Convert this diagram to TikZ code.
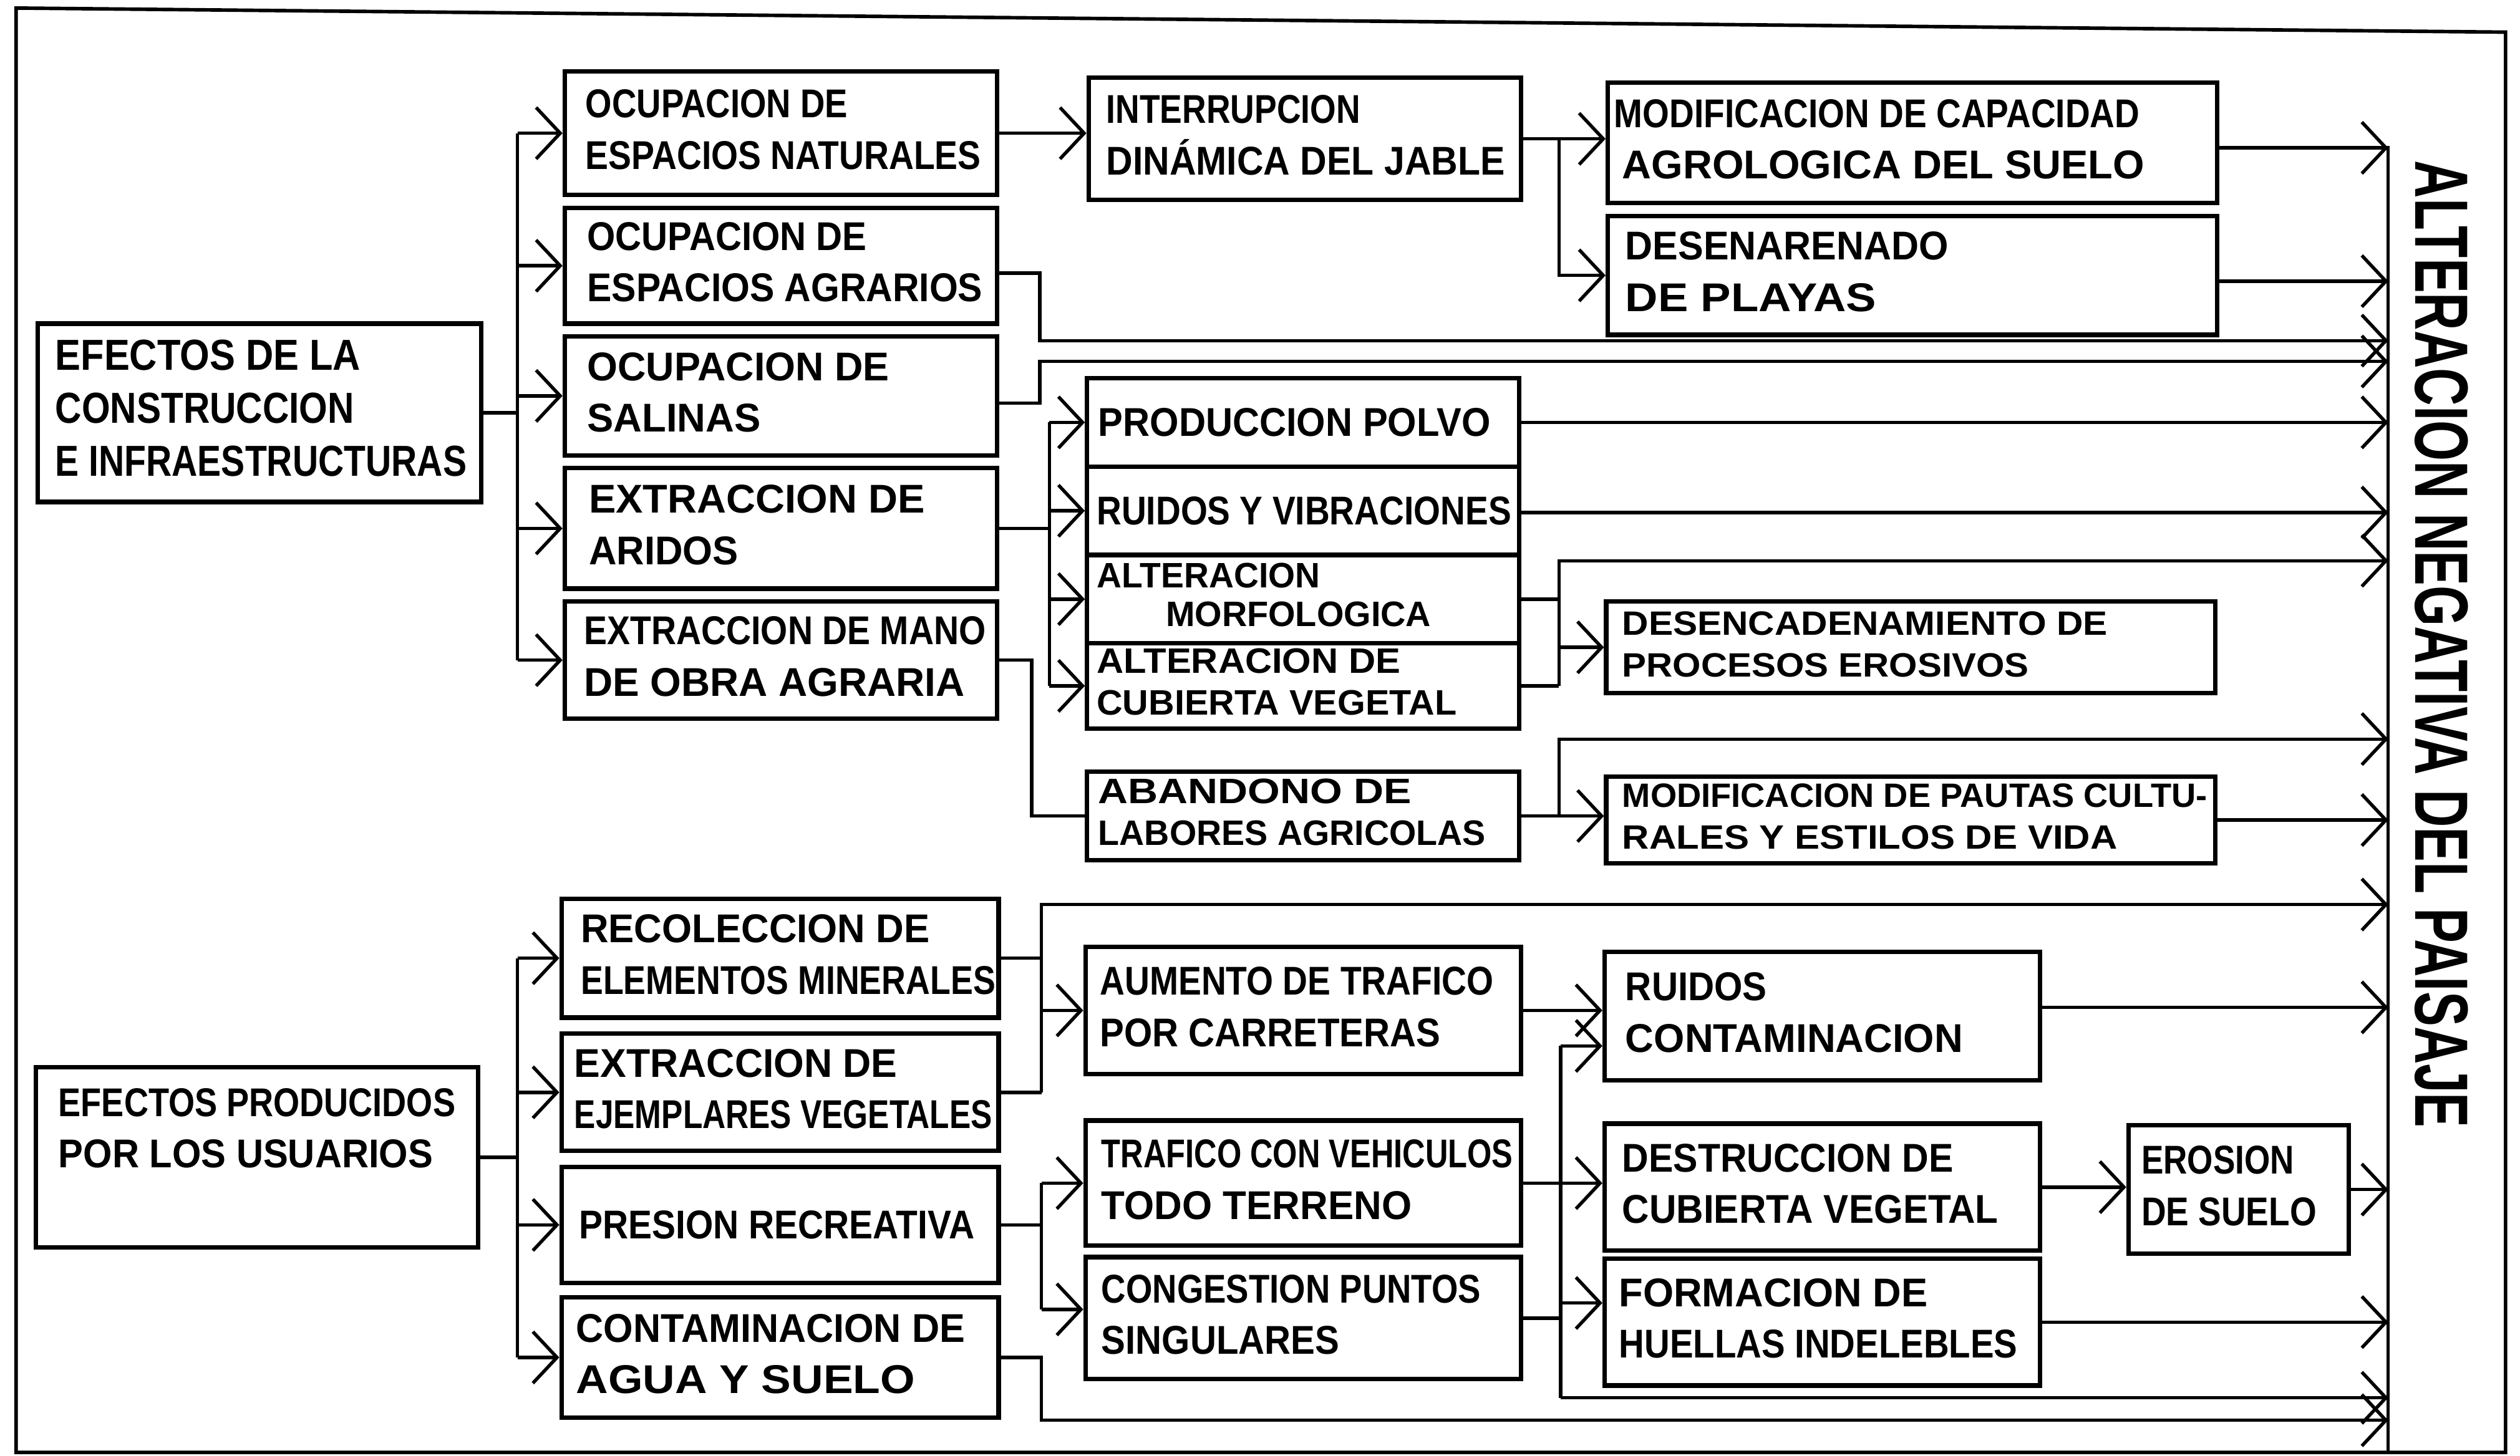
\documentclass[tikz,border=0pt]{standalone}
\usepackage{fontspec}
\usepackage{graphicx}
\setmainfont{Liberation Sans}
\usetikzlibrary{arrows.meta}
\newcommand{\fl}[2]{\resizebox{#1pt}{\height}{#2}}
\newcommand{\lns}[1]{\begin{tabular}{@{}l@{}}#1\end{tabular}}
\newcommand{\bx}[8][]{\node[box,#1,minimum width={#5pt-#3pt},minimum height={#6pt-#4pt}] (#2) at (#3,#4) {\makebox[\dimexpr#5pt-#3pt\relax][l]{\hspace*{#7pt}#8}};}
\begin{document}
\begin{tikzpicture}[x=1pt,y=-1pt,
  box/.style={draw, line width=2.8pt, inner sep=0pt, anchor=north west, font=\fontsize{25}{32}\selectfont\bfseries},
  small/.style={font=\fontsize{22}{26}\selectfont\bfseries},
  ln/.style={line width=2.1pt},
  arr/.style={line width=2.1pt, -{Straight Barb[length=15pt,width=32pt]}},
  frame/.style={line width=2.2pt}]
\useasboundingbox (0,0) rectangle (1568,906);
% outer frame
\draw[frame] (10,5) -- (1559,20) -- (1559,904) -- (10,904) -- cycle;
% ---------- boxes ----------
\bx[font=\fontsize{27}{33}\selectfont\bfseries]{A1}{22}{200}{298}{311}{11}{\lns{\fl{190}{EFECTOS DE LA}\\\fl{186}{CONSTRUCCION}\\\fl{256}{E INFRAESTRUCTURAS}}}
\bx{A2}{21}{663}{296}{775}{14}{\lns{\fl{247}{EFECTOS PRODUCIDOS}\\\fl{233}{POR LOS USUARIOS}\\ {}}}
\bx{B1}{350}{43}{619}{120}{13}{\lns{\fl{163}{OCUPACION DE}\\\fl{246}{ESPACIOS NATURALES}}}
\bx{B2}{350}{128}{619}{200}{14}{\lns{\fl{174}{OCUPACION DE}\\\fl{246}{ESPACIOS AGRARIOS}}}
\bx{B3}{350}{208}{619}{282}{14}{\lns{\fl{188}{OCUPACION DE}\\\fl{108}{SALINAS}}}
\bx{B4}{350}{290}{619}{365}{15}{\lns{\fl{209}{EXTRACCION DE}\\\fl{93}{ARIDOS}}}
\bx{B5}{350}{373}{619}{446}{12}{\lns{\fl{250}{EXTRACCION DE MANO}\\\fl{237}{DE OBRA AGRARIA}}}
\bx{C1}{676}{47}{945}{123}{11}{\lns{\fl{158}{INTERRUPCION}\\\fl{248}{DINÁMICA DEL JABLE}}}
\bx{C2}{675}{234}{944}{289}{7}{\fl{244}{PRODUCCION POLVO}}
\bx{C3}{675}{289}{944}{344}{6}{\fl{258}{RUIDOS Y VIBRACIONES}}
\bx[font=\fontsize{22}{24}\selectfont\bfseries]{C4}{675}{344}{944}{399}{6}{\lns{\fl{139}{ALTERACION}\\\hspace*{43pt}\fl{165}{MORFOLOGICA}}}
\bx[small]{C5}{675}{399}{944}{452}{6}{\lns{\fl{189}{ALTERACION DE}\\\fl{224}{CUBIERTA VEGETAL}}}
\bx[small]{C6}{675}{479}{944}{534}{7}{\lns{\fl{195}{ABANDONO DE}\\\fl{241}{LABORES AGRICOLAS}}}
\bx{D1}{999}{50}{1378}{125}{4}{\lns{\fl{327}{MODIFICACION DE CAPACIDAD}\\\hspace*{5pt}\fl{325}{AGROLOGICA DEL SUELO}}}
\bx{D2}{999}{133}{1378}{207}{11}{\lns{\fl{201}{DESENARENADO}\\\fl{156}{DE PLAYAS}}}
\bx[font=\fontsize{21}{26}\selectfont\bfseries]{D3}{998}{373}{1377}{430}{10}{\lns{\fl{302}{DESENCADENAMIENTO DE}\\\fl{253}{PROCESOS EROSIVOS}}}
\bx[font=\fontsize{21}{26}\selectfont\bfseries]{D4}{998}{482}{1377}{536}{10}{\lns{\fl{364}{MODIFICACION DE PAUTAS CULTU-}\\\fl{308}{RALES Y ESTILOS DE VIDA}}}
\bx{B6}{348}{558}{620}{632}{12}{\lns{\fl{217}{RECOLECCION DE}\\\fl{258}{ELEMENTOS MINERALES}}}
\bx{B7}{348}{642}{620}{715}{8}{\lns{\fl{201}{EXTRACCION DE}\\\fl{260}{EJEMPLARES VEGETALES}}}
\bx{B8}{348}{725}{620}{797}{11}{\fl{246}{PRESION RECREATIVA}}
\bx{B9}{348}{806}{620}{881}{9}{\lns{\fl{242}{CONTAMINACION DE}\\\fl{211}{AGUA Y SUELO}}}
\bx{E1}{674}{588}{945}{667}{9}{\lns{\fl{245}{AUMENTO DE TRAFICO}\\\fl{212}{POR CARRETERAS}}}
\bx{E2}{674}{696}{945}{774}{10}{\lns{\fl{256}{TRAFICO CON VEHICULOS}\\\fl{193}{TODO TERRENO}}}
\bx{E3}{674}{781}{945}{857}{10}{\lns{\fl{236}{CONGESTION PUNTOS}\\\fl{148}{SINGULARES}}}
\bx{F1}{997}{591}{1268}{671}{13}{\lns{\fl{88}{RUIDOS}\\\fl{210}{CONTAMINACION}}}
\bx{F2}{997}{698}{1268}{777}{11}{\lns{\fl{206}{DESTRUCCION DE}\\\fl{234}{CUBIERTA VEGETAL}}}
\bx{F3}{997}{782}{1268}{861}{9}{\lns{\fl{192}{FORMACION DE}\\\fl{248}{HUELLAS INDELEBLES}}}
\bx{G1}{1323}{699}{1460}{779}{8}{\lns{\fl{95}{EROSION}\\\fl{109}{DE SUELO}}}
% title
\node[anchor=base, rotate=-90, inner sep=0pt, font=\fontsize{47}{50}\selectfont\bfseries] (title) at (1503,401) {\resizebox{602pt}{\height}{ALTERACION NEGATIVA DEL PAISAJE}};
% ---------- junction coordinates ----------
\coordinate (jA) at (322,0);
\coordinate (jB) at (647,0);
\coordinate (jD) at (653,0);
\coordinate (jE) at (642,0);
\coordinate (jC) at (970,0);
\coordinate (jF) at (648,0);
\coordinate (jG) at (971,0);
\coordinate (col) at (1486,0);
% collector
\draw[ln] (col |- 0,91) -- (col |- 0,905);
% trunk from A1
\draw[ln] (A1.east) -- (A1.east -| jA);
\draw[ln] (jA |- B1.west) -- (jA |- B5.west);
\foreach \n in {B1,B2,B3,B4,B5} \draw[arr] (jA |- \n.west) -- (\n.west);
% trunk from A2
\draw[ln] (A2.east) -- (A2.east -| jA);
\draw[ln] (jA |- B6.west) -- (jA |- B9.west);
\foreach \n in {B6,B7,B8,B9} \draw[arr] (jA |- \n.west) -- (\n.west);
% upper chain
\draw[arr] (B1.east) -- (B1.east -| C1.west);
\draw[arr] (C1.east) -- (C1.east -| D1.west);
\draw[arr] (C1.east -| jC) |- (D2.west);
\draw[arr] (D1.east |- 0,92) -- (col |- 0,92);
\draw[arr] (D2.east |- 0,175) -- (col |- 0,175);
\draw[arr] (B2.east |- 0,170) -| (jB |- 0,212) -- (col |- 0,212);
\draw[arr] (B3.east |- 0,251) -| (jB |- 0,225) -- (col |- 0,225);
% B4 to C2..C5
\draw[ln] (B4.east) -- (B4.east -| jD);
\draw[ln] (jD |- C2.west) -- (jD |- C5.west);
\foreach \n in {C2,C3,C4,C5} \draw[arr] (jD |- \n.west) -- (\n.west);
% B5 to C6
\draw[ln] (B5.east) -| (jE |- C6.west) -- (C6.west);
% C column outputs
\draw[arr] (C2.east) -- (C2.east -| col);
\draw[arr] (C3.east |- 0,319) -- (col |- 0,319);
\draw[ln] (C4.east) -- (C4.east -| jC);
\draw[ln] (C5.east) -- (C5.east -| jC);
\draw[arr] (C5.east -| jC) -- (jC |- 0,349) -- (col |- 0,349);
\draw[arr] (jC |- D3.west) -- (D3.west);
\draw[arr] (C6.east) -- (C6.east -| D4.west);
\draw[arr] (C6.east -| jC) -- (jC |- 0,460) -- (col |- 0,460);
\draw[arr] (D4.east) -- (D4.east -| col);
% lower part
\draw[ln] (B6.east) -- (B6.east -| jF);
\draw[ln] (B7.east) -- (B7.east -| jF);
\draw[arr] (B7.east -| jF) -- (jF |- 0,563) -- (col |- 0,563);
\draw[arr] (jF |- E1.west) -- (E1.west);
\draw[ln] (B8.east) -- (B8.east -| jF);
\draw[ln] (jF |- E2.west) -- (jF |- 0,815);
\draw[arr] (jF |- E2.west) -- (E2.west);
\draw[arr] (jF |- 0,815) -- (E3.west |- 0,815);
\draw[arr] (B9.east) -| (jF |- 0,884) -- (col |- 0,884);
\draw[arr] (E1.east) -- (E1.east -| F1.west);
\draw[arr] (E2.east) -- (E2.east -| F2.west);
\draw[ln] (E3.east) -- (E3.east -| jG);
\draw[ln] (jG |- 0,651) -- (jG |- 0,870);
\draw[arr] (jG |- 0,651) -- (F1.west |- 0,651);
\draw[arr] (jG |- 0,811) -- (F3.west |- 0,811);
\draw[arr] (jG |- 0,870) -- (col |- 0,870);
\draw[arr] (F1.east |- 0,627) -- (col |- 0,627);
\draw[arr] (F2.east) -- (F2.east -| G1.west);
\draw[arr] (G1.east) -- (G1.east -| col);
\draw[arr] (F3.east) -- (F3.east -| col);
\end{tikzpicture}
\end{document}
